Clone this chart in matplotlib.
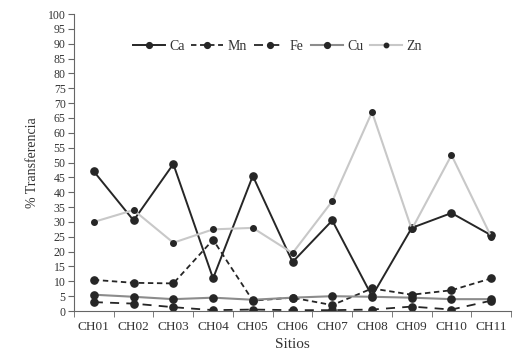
import matplotlib
matplotlib.use("Agg")
import matplotlib.pyplot as plt
import numpy as np

sites = ["CH01", "CH02", "CH03", "CH04", "CH05", "CH06",
         "CH07", "CH08", "CH09", "CH10", "CH11"]
ca = [47, 30.5, 49.5, 11, 45.5, 16.5, 30.5, 5, 28, 33, 25.5]
mn = [10.5, 9.5, 9.3, 24, 3.5, 4.5, 2, 7.6, 5.5, 7, 11]
fe = [3, 2.5, 1.3, 0.3, 0.5, 0.3, 0.3, 0.5, 1.5, 0.5, 3.5]
cu = [5.5, 4.8, 4, 4.5, 3.8, 4.5, 5, 4.8, 4.5, 4, 4]
zn = [30, 34, 23, 27.5, 28, 19.5, 37, 67, 27.5, 52.5, 25]

plt.rcParams["font.family"] = ["Liberation Serif", "DejaVu Serif"]

fig = plt.figure(figsize=(5.21, 3.6), dpi=100)
ax = fig.add_axes([0.142, 0.136, 0.839, 0.825])

x = np.arange(len(sites))
dark = "#262626"
ax.plot(x, ca, "-o", color=dark, lw=1.4, ms=5.2, label="Ca")
ax.plot(x, mn, "--o", color=dark, lw=1.3, ms=5.2, dashes=(3, 2), label="Mn")
ax.plot(x, fe, "--o", color=dark, lw=1.3, ms=5.2, dashes=(5, 4), label="Fe")
ax.plot(x, cu, "-o", color="#8c8c8c", lw=1.5, ms=5.2, mfc=dark, mec=dark, label="Cu")
ax.plot(x, zn, "-o", color="#c8c8c8", lw=1.5, ms=4, mfc=dark, mec=dark, label="Zn")

ax.set_xlim(-0.5, len(sites) - 0.5)
ax.set_ylim(0, 100)
ax.set_yticks(np.arange(0, 101, 5))
ax.set_xticks(x)
ax.set_xticklabels(sites)
ax.set_xticks(np.arange(-0.5, len(sites), 1), minor=True)
ax.tick_params(axis="x", which="major", length=0, pad=7, labelsize=9.5, colors="#333333")
ax.tick_params(axis="x", which="minor", length=4, direction="out", color="#666666")
ax.tick_params(axis="y", length=4, labelsize=8.5, color="#666666", labelcolor="#333333", pad=2)

for s in ("top", "right"):
    ax.spines[s].set_visible(False)
for s in ("left", "bottom"):
    ax.spines[s].set_color("#666666")

ax.set_xlabel("Sitios", fontsize=11, labelpad=4, color="#333333")
ax.set_ylabel("% Transferencia", fontsize=10, labelpad=6, color="#333333")

leg = ax.legend(loc="center", bbox_to_anchor=(0.465, 0.89), ncol=5, frameon=False,
                fontsize=10, handlelength=2.3, columnspacing=0.5, handletextpad=0.3,
                markerscale=0.8)
for t in leg.get_texts():
    t.set_color("#333333")

fig.savefig("out.png", dpi=100)
